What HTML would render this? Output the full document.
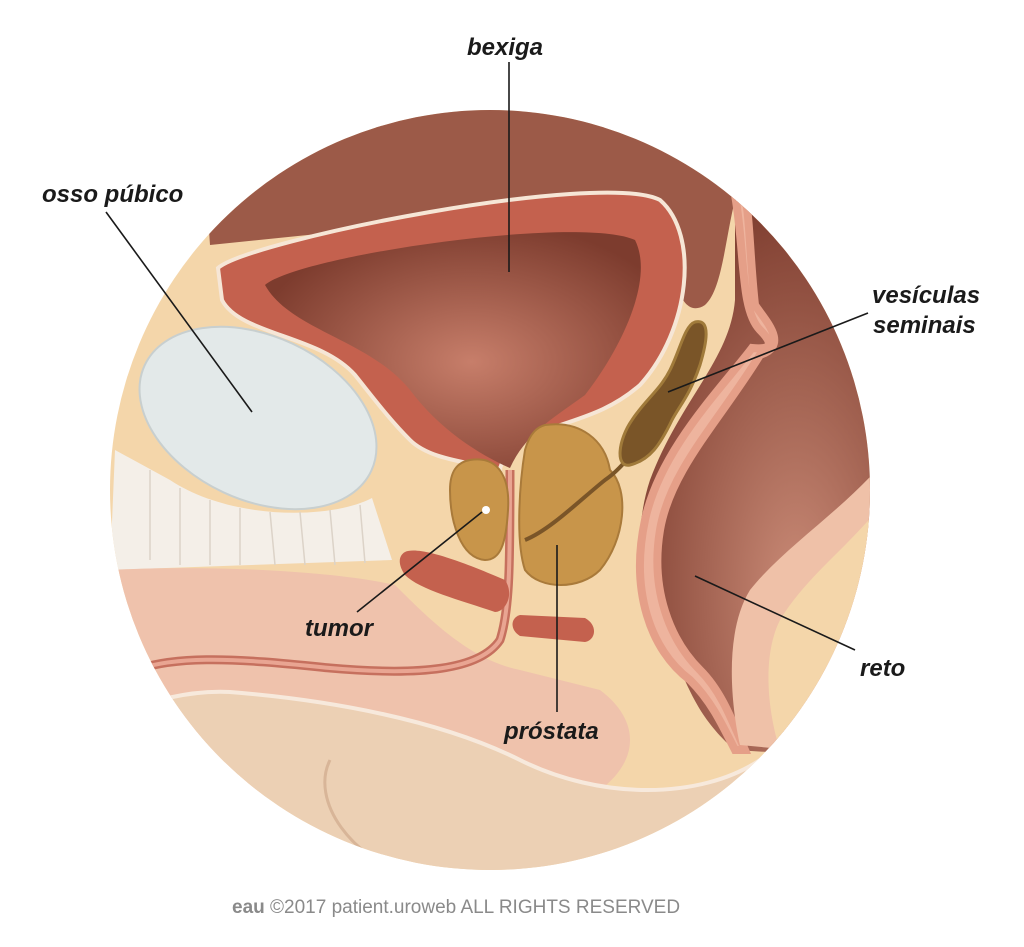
<!DOCTYPE html>
<html><head><meta charset="utf-8"><style>
html,body{margin:0;padding:0;background:#fff;width:1024px;height:947px;overflow:hidden}
svg{display:block}
.l{font-family:"Liberation Sans",sans-serif;font-weight:bold;font-style:italic;font-size:24px;fill:#1a1a1a}
</style></head><body>
<svg width="1024" height="947" viewBox="0 0 1024 947">
<defs>
<clipPath id="c"><circle cx="490" cy="490" r="380"/></clipPath>
<radialGradient id="bl" cx="0.55" cy="0.55" r="0.6"><stop offset="0" stop-color="#c77e6a"/><stop offset="1" stop-color="#7d3c2e"/></radialGradient>
<radialGradient id="re" cx="0.6" cy="0.7" r="0.7"><stop offset="0" stop-color="#c98a76"/><stop offset="1" stop-color="#7f3e30"/></radialGradient>
</defs>
<g clip-path="url(#c)">
<rect x="100" y="100" width="800" height="800" fill="#f4d6aa"/>
<path d="M200,100 H760 V200 L735,200 C725,240 722,290 705,305 C690,315 680,300 678,285 L650,200 L210,245 Z" fill="#9c5a48"/>
<path d="M735,195 L900,195 V760 L735,750 C700,720 690,690 680,670 C640,620 630,540 650,480 C680,400 730,360 735,300 Z" fill="url(#re)"/>
<path d="M735,195 C745,250 740,310 760,330 C775,345 770,350 752,348 C720,390 660,450 645,520 C630,590 650,650 690,680 C710,700 720,720 735,750 L745,750 C730,715 720,690 700,670 C670,640 650,590 660,530 C670,470 720,420 760,355 C790,345 765,320 755,305 C750,260 750,220 745,195 Z" fill="#eeb49e" stroke="#e59f88" stroke-width="8"/>
<path d="M900,440 C860,500 790,540 750,590 C725,630 730,700 740,745 L900,760 Z" fill="#efc1a8"/>
<path d="M900,480 C860,540 810,570 780,620 C760,660 770,720 780,750 L900,760 Z" fill="#f4d6aa"/>
<path d="M218,268 C250,240 600,170 660,200 C700,235 690,330 640,385 C600,420 560,420 525,440 C505,455 500,465 500,470 C470,462 430,460 410,440 C390,420 375,400 355,375 C320,335 240,335 222,300 Z" fill="#c4614e" stroke="#f6e6d6" stroke-width="4"/>
<path d="M265,285 C300,255 580,215 635,240 C655,280 620,350 585,395 C550,420 525,435 510,468 C480,455 440,430 410,390 C370,340 290,330 265,285 Z" fill="url(#bl)"/>
<ellipse cx="258" cy="418" rx="125" ry="82" transform="rotate(25 258 418)" fill="#e3e9e9" stroke="#c8cfcf" stroke-width="2"/>
<path d="M115,450 L170,480 C230,520 330,520 372,498 L392,560 L110,570 Z" fill="#f4efe8"/>
<path d="M150,470 L150,560 M180,488 L180,565 M210,500 L210,565 M240,508 L240,565 M270,512 L275,565 M300,512 L305,565 M330,510 L335,565 M360,505 L365,563" stroke="#dcd3c8" stroke-width="1.5"/>
<path d="M110,570 C200,565 330,570 395,585 C430,620 470,660 520,670 L600,690 C640,720 640,760 600,790 L110,800 Z" fill="#efc2ac"/>
<path d="M115,680 C160,650 250,660 330,668 C420,676 480,670 500,640 C510,610 510,560 510,470" fill="none" stroke="#c6705e" stroke-width="9"/>
<path d="M115,680 C160,650 250,660 330,668 C420,676 480,670 500,640 C510,610 510,560 510,470" fill="none" stroke="#e9a592" stroke-width="4"/>
<path d="M100,720 C150,700 190,690 230,692 C330,700 440,720 520,760 C600,800 700,800 760,760 C800,735 850,720 900,720 V900 H100 Z" fill="#ecd0b4" stroke="#f7e9dc" stroke-width="4"/>
<path d="M330,760 C310,800 350,860 420,880" fill="none" stroke="#d8b598" stroke-width="3"/>
<path d="M405,552 C420,545 470,565 505,580 C515,595 505,612 495,612 C460,600 420,590 405,575 C398,565 398,556 405,552 Z" fill="#c4614e"/>
<path d="M520,615 L585,618 C598,625 596,640 585,642 L520,636 C510,630 510,618 520,615 Z" fill="#c4614e"/>
<path d="M470,460 C500,455 510,480 508,510 C506,545 500,560 485,560 C460,558 450,520 450,490 C450,470 458,462 470,460 Z" fill="#c8954a" stroke="#a97a3a" stroke-width="2"/>
<path d="M545,425 C580,420 605,440 610,470 C630,490 625,540 600,570 C580,590 540,590 525,570 C515,540 520,480 525,450 C530,432 538,427 545,425 Z" fill="#c8954a" stroke="#a97a3a" stroke-width="2"/>
<path d="M525,540 C550,530 580,500 605,480 C620,470 630,455 640,445" fill="none" stroke="#7a5528" stroke-width="4"/>
<circle cx="486" cy="510" r="4" fill="#fff"/>
<path d="M695,322 C712,318 706,345 700,365 C690,395 680,405 672,420 C660,445 650,460 630,465 C615,468 618,440 632,420 C645,400 660,390 670,370 C680,350 685,325 695,322 Z" fill="#7a5528" stroke="#a07a3a" stroke-width="3"/>
</g>
<g stroke="#1a1a1a" stroke-width="1.6">
<line x1="509" y1="62" x2="509" y2="272"/>
<line x1="106" y1="212" x2="252" y2="412"/>
<line x1="868" y1="313" x2="668" y2="392"/>
<line x1="357" y1="612" x2="482" y2="512"/>
<line x1="855" y1="650" x2="695" y2="576"/>
<line x1="557" y1="712" x2="557" y2="545"/>
</g>
<text class="l" x="467" y="55">bexiga</text>
<text class="l" x="42" y="202">osso púbico</text>
<text class="l" x="872" y="303">vesículas</text>
<text class="l" x="873" y="333">seminais</text>
<text class="l" x="305" y="636">tumor</text>
<text class="l" x="860" y="676">reto</text>
<text class="l" x="504" y="739">próstata</text>
<text x="232" y="913" font-family="'Liberation Sans',sans-serif" font-size="19" fill="#8a8a8a"><tspan font-weight="bold">eau</tspan> ©2017 patient.uroweb ALL RIGHTS RESERVED</text>
</svg>
</body></html>
